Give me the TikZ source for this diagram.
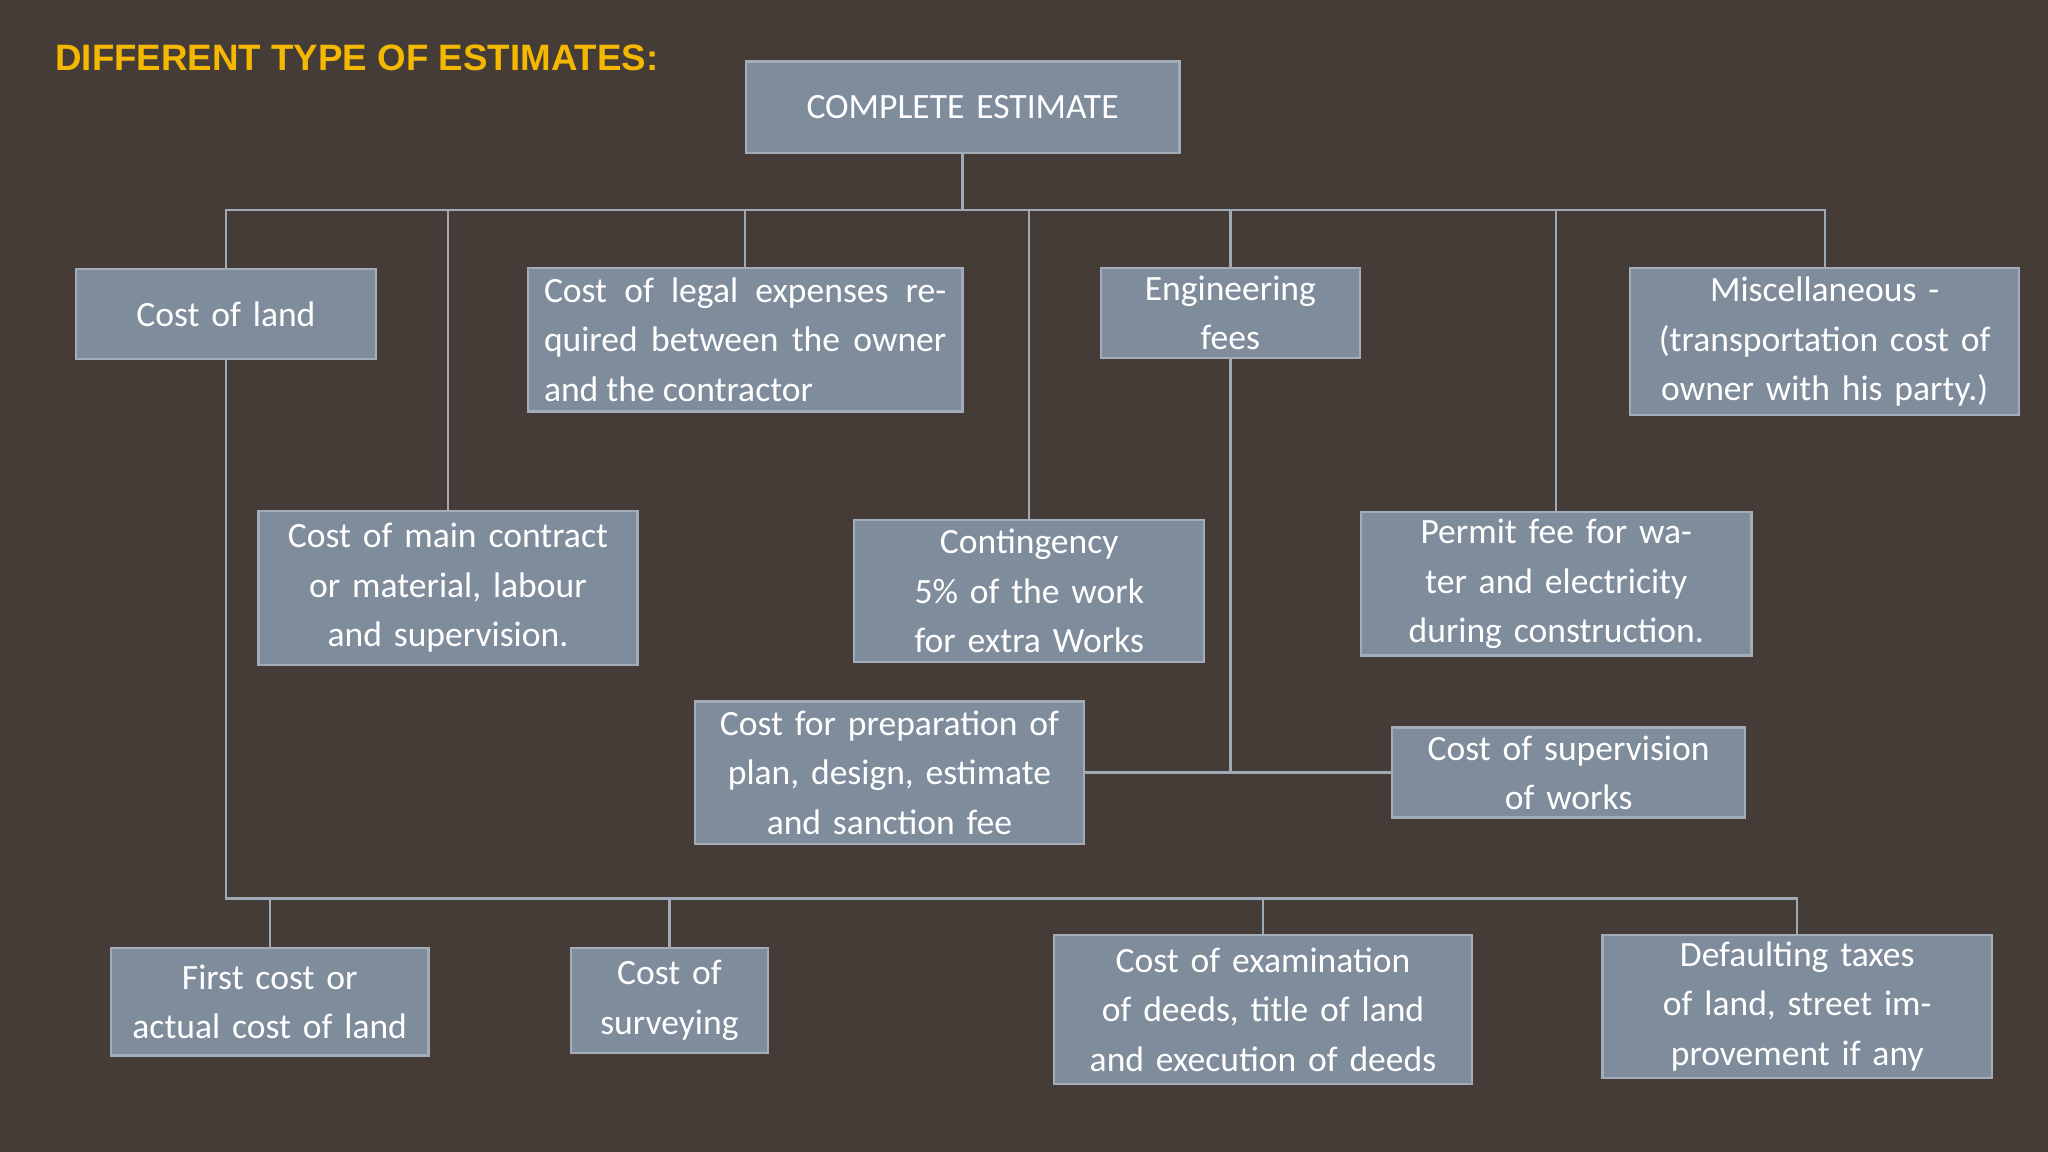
\documentclass[tikz,border=0pt]{standalone}
\usepackage{fontspec}
\setmainfont{Carlito}
\newfontfamily\titlefont{Liberation Sans}
\definecolor{bg}{HTML}{463C37}
\definecolor{boxfill}{HTML}{7F8C9C}
\definecolor{boxline}{HTML}{A3ADBA}
\definecolor{wire}{HTML}{A0AAB6}
\definecolor{ttl}{HTML}{F5B800}
\tikzset{
 box/.style={draw=boxline, line width=1pt, fill=boxfill, text=white, inner sep=3pt, align=center,
   font=\fontsize{15.5}{21.5}\selectfont},
 wires/.style={draw=wire, line width=1pt}
}
\newcommand{\bx}[6]{% name x1 y1 x2 y2 text
 \pgfmathsetmacro{\cx}{(#2+#4)/2}\pgfmathsetmacro{\cy}{(#3+#5)/2}
 \pgfmathsetmacro{\w}{(#4-#2)*0.02}\pgfmathsetmacro{\h}{(#5-#3)*0.02}
 \pgfmathsetmacro{\tw}{(#4-#2)*0.02-0.5}
 \node[box, minimum width=\w cm, minimum height=\h cm, text width=\tw cm] (#1) at (\cx,\cy) {#6};}
\begin{document}
\begin{tikzpicture}[x=0.02cm,y=-0.02cm]
\fill[bg] (0,0) rectangle (1568,882);
\node[anchor=north west, text=ttl, text width=9.52cm, align=justify, inner sep=0pt,
  font=\titlefont\bfseries\fontsize{16}{20}\selectfont] (title) at (42,34)
  {DIFFERENT TYPE OF ESTIMATES:};
\bx{top}{571}{47}{903}{117}{COMPLETE ESTIMATE}
\bx{land}{58}{206}{288}{275}{Cost of land}
\pgfmathsetmacro{\lw}{(737-404)*0.02-0.5}
\node[box, minimum width=6.66cm, minimum height=2.2cm, text width=\lw cm, align=justify] (legal) at (570.5,260) {Cost of legal expenses required between the owner and the contractor};
\bx{eng}{843}{205}{1041}{274}{Engineering\\fees}
\bx{misc}{1248}{205}{1546}{318}{Miscellaneous -\\(transportation cost of owner with his party.)}
\bx{main}{198}{391}{488}{509}{Cost of main contract or material, labour and supervision.}
\bx{cont}{654}{398}{922}{507}{Contingency 5\% of the work for extra Works}
\bx{permit}{1042}{393}{1341}{501}{Permit fee for water and electricity during construction.}
\bx{prep}{532}{537}{830}{646}{Cost for preparation of plan, design, estimate and sanction fee}
\bx{sup}{1066}{557}{1336}{626}{Cost of supervision\\of works}
\bx{first}{85}{726}{328}{808}{First cost or actual cost of land}
\bx{surv}{437}{726}{588}{806}{Cost of\\surveying}
\bx{exam}{807}{716}{1127}{830}{Cost of examination of deeds, title of land and execution of deeds}
\bx{def}{1227}{716}{1525}{825}{Defaulting taxes of land, street improvement if any}
\coordinate (bus1) at (737,161);
\coordinate (bus2) at (173,688);
\draw[wires] (top.south) -- (bus1);
\draw[wires] (land.north) -- (land.north |- bus1) -- (misc.north |- bus1) -- (misc.north);
\foreach \n in {main,legal,cont,eng,permit} \draw[wires] (\n.north) -- (\n.north |- bus1);
\draw[wires] (land.south) -- (land.south |- bus2) -- (def.north |- bus2) -- (def.north);
\foreach \n in {first,surv,exam} \draw[wires] (\n.north) -- (\n.north |- bus2);
\draw[wires] (eng.south) -- (eng.south |- prep.east);
\draw[wires] (prep.east) -- (sup.west);
\end{tikzpicture}
\end{document}
